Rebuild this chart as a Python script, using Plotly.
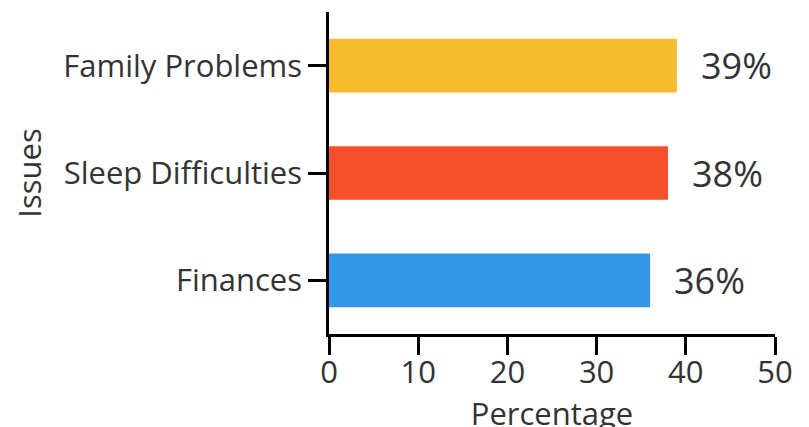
import plotly.graph_objects as go

categories = ["Finances", "Sleep Difficulties", "Family Problems"]
values = [36, 38, 39]
colors = ["#3296EB", "#F5502B", "#F7BB2E"]
x_ticks = [0, 10, 20, 30, 40, 50]

FONT = "Open Sans"
TXT = "#333333"
FS = 31

fig = go.Figure(
    go.Bar(
        y=categories,
        x=values,
        orientation="h",
        marker=dict(color=colors, line=dict(width=0)),
        width=0.5,
    )
)

for c, v in zip(categories, values):
    fig.add_annotation(
        x=v, y=c, text=f"{v}%", showarrow=False,
        xanchor="left", yanchor="middle", xshift=22,
        font=dict(family=FONT, size=36, color=TXT),
    )

fig.update_layout(
    width=809, height=427,
    margin=dict(l=321, r=42, t=4, b=101),
    plot_bgcolor="white", paper_bgcolor="white",
    showlegend=False,
    font=dict(family=FONT, size=FS, color=TXT),
    xaxis=dict(
        range=[0, 50], tickvals=x_ticks, showgrid=False, zeroline=False,
        showline=True, linecolor="black", linewidth=2.5,
        ticks="outside", ticklen=18, tickwidth=2.5, tickcolor="black",
        ticklabelstandoff=-9,
        tickfont=dict(family=FONT, size=FS, color=TXT),
        title=dict(text="Percentage", font=dict(family=FONT, size=FS, color=TXT), standoff=7),
        automargin=False,
    ),
    yaxis=dict(
        range=[-0.5, 2.5], showgrid=False, zeroline=False,
        showline=True, linecolor="black", linewidth=2.5,
        ticks="outside", ticklen=18, tickwidth=2.5, tickcolor="black",
        tickfont=dict(family=FONT, size=FS, color=TXT),
        title=dict(text="Issues", font=dict(family=FONT, size=FS, color=TXT), standoff=25),
        automargin=False,
    ),
)

fig.write_html("out.html")
